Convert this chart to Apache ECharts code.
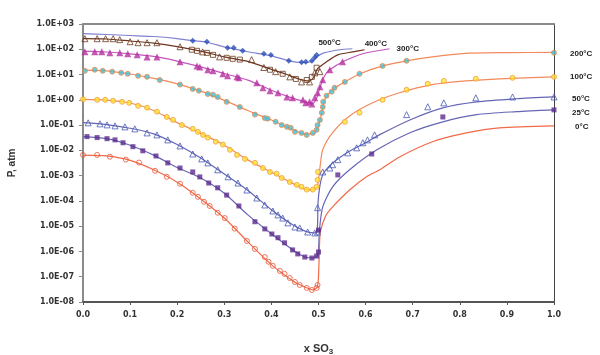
<!DOCTYPE html>
<html><head><meta charset="utf-8">
<script src="https://cdn.jsdelivr.net/npm/echarts@6/dist/echarts.min.js"></script>
<style>html,body{margin:0;padding:0;background:#fff}#c{width:600px;height:355px}</style>
</head><body><div id="c"></div>
<script>
// ---- tick labels ----
const xTickLabels = ['0.0','0.1','0.2','0.3','0.4','0.5','0.6','0.7','0.8','0.9','1.0'];
const yTickLabels = ['1.0E-08','1.0E-07','1.0E-06','1.0E-05','1.0E-04','1.0E-03','1.0E-02','1.0E-01','1.0E+00','1.0E+01','1.0E+02','1.0E+03'];
const temps = ['500°C','400°C','300°C','200°C','100°C','50°C','25°C','0°C'];

// ---- fitted curves [x SO3, P atm] ----
const line500 = [[0,415],[0.05,385],[0.1,350],[0.15,320],[0.2,265],[0.233,218],[0.263,190],[0.3,125],[0.35,80],[0.4,55],[0.44,34],[0.465,30],[0.485,32],[0.495,48],[0.51,70],[0.545,96],[0.572,105]];
const line400 = [[0,262],[0.05,255],[0.1,212],[0.15,175],[0.2,128],[0.25,84],[0.3,50],[0.35,33],[0.4,16],[0.43,10.5],[0.46,6.5],[0.48,5.5],[0.49,8],[0.498,17],[0.517,32],[0.541,60],[0.573,79],[0.598,96]];
const line300 = [[0,85],[0.05,78],[0.1,66],[0.15,52],[0.2,34],[0.25,20],[0.3,11],[0.35,6],[0.4,2.4],[0.44,1.25],[0.47,0.85],[0.488,0.72],[0.497,1.3],[0.503,3],[0.513,9],[0.524,15.5],[0.556,35],[0.596,68],[0.651,105]];
const line200 = [[0,15],[0.05,14],[0.1,10.5],[0.15,7],[0.2,4.3],[0.25,2.2],[0.3,0.95],[0.35,0.38],[0.4,0.16],[0.44,0.075],[0.47,0.045],[0.488,0.045],[0.497,0.07],[0.503,0.15],[0.508,0.4],[0.512,0.9],[0.52,1.6],[0.535,3.0],[0.556,5.1],[0.587,10.5],[0.636,22],[0.687,35],[0.742,50],[0.82,70],[0.9,74],[1.0,75]];
const line100 = [[0,1.05],[0.05,0.98],[0.1,0.75],[0.15,0.38],[0.2,0.125],[0.25,0.047],[0.3,0.016],[0.35,4.2e-3],[0.4,1.35e-3],[0.44,5.5e-4],[0.47,3e-4],[0.488,2.7e-4],[0.497,3.6e-4],[0.5,7e-4],[0.503,2e-3],[0.509,0.0105],[0.53,0.05],[0.566,0.23],[0.615,0.76],[0.672,1.9],[0.742,4.0],[0.814,5.6],[0.884,6.8],[1.0,8.1]];
const line50 = [[0,0.125],[0.05,0.105],[0.1,0.075],[0.15,0.045],[0.2,0.017],[0.25,5e-3],[0.3,1.15e-3],[0.35,2.6e-4],[0.4,4.5e-5],[0.44,1.3e-5],[0.47,6.5e-6],[0.49,5.4e-6],[0.497,6e-6],[0.499,8.5e-5],[0.503,4e-4],[0.509,1.1e-3],[0.517,1.8e-3],[0.53,3.2e-3],[0.55,6e-3],[0.573,0.011],[0.6,0.02],[0.63,0.042],[0.694,0.16],[0.764,0.48],[0.836,0.83],[0.92,1.1],[1.0,1.3]];
const line25 = [[0,0.035],[0.05,0.029],[0.1,0.016],[0.15,6.5e-3],[0.2,2.1e-3],[0.25,8e-4],[0.3,2e-4],[0.35,2.8e-5],[0.4,5e-6],[0.45,1e-6],[0.47,6.2e-7],[0.488,5.5e-7],[0.497,6.5e-7],[0.5,1.2e-6],[0.502,7e-6],[0.509,5.8e-5],[0.53,3.6e-4],[0.566,1.7e-3],[0.624,0.0105],[0.694,0.05],[0.764,0.135],[0.836,0.26],[0.92,0.34],[1.0,0.4]];
const line0 = [[0,6.5e-3],[0.05,6e-3],[0.1,4e-3],[0.15,1.7e-3],[0.2,5.5e-4],[0.25,1.2e-4],[0.3,2.1e-5],[0.35,2.4e-6],[0.4,3e-7],[0.45,6e-8],[0.47,4e-8],[0.488,3e-8],[0.497,3.8e-8],[0.5,1e-7],[0.502,1.5e-6],[0.504,6e-6],[0.515,2.5e-5],[0.53,5.8e-5],[0.566,2.7e-4],[0.602,9e-4],[0.63,1.7e-3],[0.672,5.5e-3],[0.742,0.022],[0.814,0.049],[0.884,0.078],[1.0,0.093]];

// ---- measured points ----
const pts500 = [[0.233,218],[0.263,199],[0.307,115],[0.32,115],[0.339,87],[0.384,66],[0.399,60],[0.437,35],[0.464,31],[0.473,32],[0.486,35],[0.492,47],[0.496,60]];
const pts400tri = [[0.004,262],[0.03,262],[0.048,262],[0.064,262],[0.078,240],[0.1,199],[0.117,182],[0.136,182],[0.157,182],[0.206,126],[0.254,79],[0.29,50],[0.358,39],[0.384,19],[0.409,13],[0.439,8.1],[0.464,5.1],[0.481,5.1],[0.492,11.7],[0.503,13]];
const pts400sq = [[0.231,96],[0.242,87],[0.263,72],[0.276,60],[0.305,46],[0.318,42],[0.333,39],[0.397,15.5],[0.424,10.7],[0.452,6.7],[0.475,6.1],[0.486,8.1],[0.496,18.6]];
const pts300 = [[0.004,79],[0.025,79],[0.04,79],[0.057,73],[0.078,73],[0.095,67],[0.115,61],[0.136,50],[0.157,50],[0.206,32],[0.242,22],[0.248,20],[0.265,15.5],[0.276,14],[0.297,10.7],[0.307,9],[0.327,8.1],[0.331,7.4],[0.369,4.7],[0.382,3.0],[0.397,2.3],[0.414,1.9],[0.433,1.3],[0.445,1.2],[0.467,1.0],[0.473,0.76],[0.481,0.83],[0.486,0.69],[0.492,1.2],[0.498,1.9],[0.503,3.3],[0.509,6.2],[0.524,15.5],[0.551,32]];
const pts200 = [[0.004,14],[0.025,15.5],[0.042,14],[0.062,13],[0.081,11.7],[0.095,10.7],[0.117,8.9],[0.136,8.1],[0.163,6.1],[0.206,4.0],[0.233,2.7],[0.246,2.3],[0.265,1.7],[0.276,1.6],[0.286,1.3],[0.305,0.83],[0.333,0.52],[0.365,0.26],[0.386,0.19],[0.392,0.18],[0.409,0.135],[0.422,0.10],[0.433,0.085],[0.441,0.078],[0.45,0.054],[0.464,0.049],[0.475,0.041],[0.488,0.049],[0.496,0.065],[0.498,0.10],[0.503,0.16],[0.507,0.31],[0.509,0.52],[0.51,0.83],[0.517,1.45],[0.528,2.1],[0.534,3.0],[0.556,5.1],[0.587,10.7],[0.636,22],[0.687,35],[1.0,73]];
const pts100 = [[0,1.05],[0.03,1.0],[0.047,1.0],[0.064,0.92],[0.083,0.83],[0.098,0.76],[0.117,0.58],[0.136,0.49],[0.157,0.34],[0.178,0.21],[0.191,0.16],[0.21,0.10],[0.233,0.071],[0.244,0.054],[0.255,0.041],[0.265,0.032],[0.282,0.022],[0.297,0.017],[0.312,0.0105],[0.327,6.6e-3],[0.344,4.6e-3],[0.365,3.2e-3],[0.382,2e-3],[0.397,1.4e-3],[0.411,1.2e-3],[0.422,8.1e-4],[0.439,5.6e-4],[0.454,4.3e-4],[0.464,3.6e-4],[0.475,2.8e-4],[0.488,2.8e-4],[0.496,3.6e-4],[0.498,6.8e-4],[0.499,1.4e-3],[0.556,0.135],[0.587,0.31],[0.636,1.0],[0.687,2.5],[0.732,4.3],[0.766,5.6],[0.834,6.8],[0.912,7.4],[1.0,8.1]];
const pts50 = [[0.011,0.123],[0.036,0.112],[0.051,0.102],[0.068,0.093],[0.089,0.085],[0.11,0.071],[0.136,0.049],[0.157,0.041],[0.18,0.026],[0.206,0.015],[0.233,7.2e-3],[0.252,4.6e-3],[0.265,3.2e-3],[0.286,1.7e-3],[0.308,9e-4],[0.329,5.1e-4],[0.348,2.7e-4],[0.369,1.3e-4],[0.386,6.9e-5],[0.403,4e-5],[0.414,2.8e-5],[0.424,2.1e-5],[0.435,1.35e-5],[0.45,9.3e-6],[0.46,8.5e-6],[0.477,5.9e-6],[0.492,5.4e-6],[0.498,5.9e-6],[0.498,5.4e-5],[0.509,1.4e-3],[0.524,2e-3],[0.53,2.7e-3],[0.541,4.3e-3],[0.562,8e-3],[0.581,0.0126],[0.594,0.02],[0.604,0.026],[0.619,0.041],[0.687,0.26],[0.732,0.53],[0.766,0.76],[0.834,1.2],[0.912,1.3],[1.0,1.3]];
const pts25 = [[0.0085,0.035],[0.03,0.032],[0.051,0.029],[0.068,0.026],[0.085,0.02],[0.106,0.014],[0.127,9.6e-3],[0.155,6e-3],[0.18,3.2e-3],[0.206,2e-3],[0.233,1.4e-3],[0.248,8.9e-4],[0.267,5.1e-4],[0.286,3.3e-4],[0.305,1.7e-4],[0.331,6.3e-5],[0.365,1.5e-5],[0.386,7.8e-6],[0.401,4.9e-6],[0.414,3.5e-6],[0.428,2.2e-6],[0.445,1.15e-6],[0.456,8e-7],[0.471,6e-7],[0.486,5.5e-7],[0.496,6.6e-7],[0.5,9.5e-7],[0.5,7e-6],[0.541,1.07e-3],[0.613,7.2e-3],[0.764,0.21],[1.0,0.4]];
const pts0 = [[0,6.6e-3],[0.03,6.6e-3],[0.057,5.6e-3],[0.091,4.3e-3],[0.119,3.3e-3],[0.153,1.55e-3],[0.178,9e-4],[0.206,4.8e-4],[0.233,2.1e-4],[0.244,1.45e-4],[0.257,9.2e-5],[0.269,6.3e-5],[0.286,3.4e-5],[0.301,2.1e-5],[0.322,8e-6],[0.348,2.6e-6],[0.365,1.26e-6],[0.386,6e-7],[0.394,3.9e-7],[0.403,2.7e-7],[0.418,1.7e-7],[0.428,1.3e-7],[0.439,8.9e-8],[0.45,6.2e-8],[0.46,4.7e-8],[0.475,3.6e-8],[0.486,3e-8],[0.496,3.6e-8],[0.498,4.7e-8]];

const chart = echarts.init(document.getElementById('c'), null, {renderer:'canvas'});
const FONT = 'DejaVu Sans';
const lineS = (data, color) => ({type:'line', data, showSymbol:false, symbol:'none', smooth:0.25, z:2,
  lineStyle:{color, width:1.2}, animation:false, xAxisIndex:0, yAxisIndex:0});
const ptS = (data, symbol, size, color, border, bw) => ({type:'scatter', data, symbol, symbolSize:size, z:3, animation:false,
  itemStyle:{color, borderColor:border, borderWidth:bw}, xAxisIndex:0, yAxisIndex:0});

const lines = [line500,line400,line300,line200,line100,line50,line25,line0];
const lineColors = ['#8080d2','#6e3520','#c455bc','#f28a5c','#f28a5c','#6565b5','#6565b5','#f06a48'];

const series = lines.map((d,i)=>lineS(d,lineColors[i])).concat([
  ptS(pts500,'diamond',6,'#2a4db8','#2a4db8',0),
  ptS(pts400tri,'triangle',6,'rgba(255,255,255,0)','#6b3a1e',1),
  ptS(pts400sq,'rect',5,'rgba(255,255,255,0)','#6b3a1e',1),
  ptS(pts300,'triangle',7,'#b5309f','#b5309f',0),
  ptS(pts200,'circle',5,'#3cc3dc','#f08848',1),
  ptS(pts100,'circle',5,'#ffe333','#f0a040',1),
  ptS(pts50,'triangle',6,'rgba(255,255,255,0)','#4a5ab4',1),
  ptS(pts25,'rect',5,'#5b2a8c','#5b2a8c',0),
  ptS(pts0,'circle',5,'rgba(255,255,255,0)','#e8543a',1)
]);

chart.setOption({
  backgroundColor:'#fff',
  animation:false,
  grid:{left:83, right:46, top:24, bottom:53, containLabel:false, outerBoundsMode:'none'},
  xAxis:[{
    type:'value', min:0, max:1, interval:0.1, position:'bottom',
    name:'{a|x SO}{b|3}', nameLocation:'middle', nameGap:40,
    nameTextStyle:{rich:{a:{fontFamily:'Liberation Sans',fontWeight:'bold',fontSize:11,color:'#333'},
                         b:{fontFamily:'Liberation Sans',fontWeight:'bold',fontSize:8,color:'#333',padding:[6,0,0,0]}}},
    axisLine:{show:true, onZero:false, lineStyle:{color:'#555', width:2}},
    axisTick:{show:true, inside:false, length:3, lineStyle:{color:'#555', width:1}},
    splitLine:{show:false},
    axisLabel:{margin:9, color:'#333', fontFamily:FONT, fontWeight:'bold', fontSize:8,
      formatter:(v)=>xTickLabels[Math.round(v*10)]}
  },{
    type:'value', min:0, max:1, position:'top', axisLine:{show:true, onZero:false, lineStyle:{color:'#8a8a8a', width:2}},
    axisTick:{show:false}, axisLabel:{show:false}, splitLine:{show:false}
  }],
  yAxis:[{
    type:'log', logBase:10, min:1e-8, max:1e3, interval:1, position:'left',
    name:'P, atm', nameLocation:'middle', nameGap:66, nameRotate:90,
    nameTextStyle:{fontFamily:'Liberation Sans', fontWeight:'bold', fontSize:10, color:'#333'},
    axisLine:{show:true, onZero:false, lineStyle:{color:'#8a8a8a', width:2}},
    axisTick:{show:true, inside:false, length:4, lineStyle:{color:'#8a8a8a', width:1}},
    splitLine:{show:false}, minorTick:{show:false},
    axisLabel:{margin:9, color:'#333', fontFamily:FONT, fontWeight:'bold', fontSize:8, showMinLabel:true, showMaxLabel:true,
      formatter:(v)=>yTickLabels[Math.round(Math.log10(v))+8]}
  },{
    type:'log', logBase:10, min:1e-8, max:1e3, position:'right',
    axisLine:{show:true, onZero:false, lineStyle:{color:'#444', width:1}},
    axisTick:{show:false}, axisLabel:{show:false}, splitLine:{show:false}
  }],
  series
});

// curve labels placed next to each curve's end point
const labelOffsets = [[-34,-6],[0,-6],[7,0],[16,1],[16,0],[18,2],[18,3],[21,1]];
const graphic = lines.map((d,i)=>{
  const p = chart.convertToPixel({xAxisIndex:0, yAxisIndex:0}, d[d.length-1]);
  return {type:'text', x:p[0]+labelOffsets[i][0], y:p[1]+labelOffsets[i][1], z:10,
    style:{text:temps[i], fill:'#222', font:'bold 8px "Liberation Sans"', textVerticalAlign:'middle', verticalAlign:'middle'}};
});
chart.setOption({graphic});
</script></body></html>
